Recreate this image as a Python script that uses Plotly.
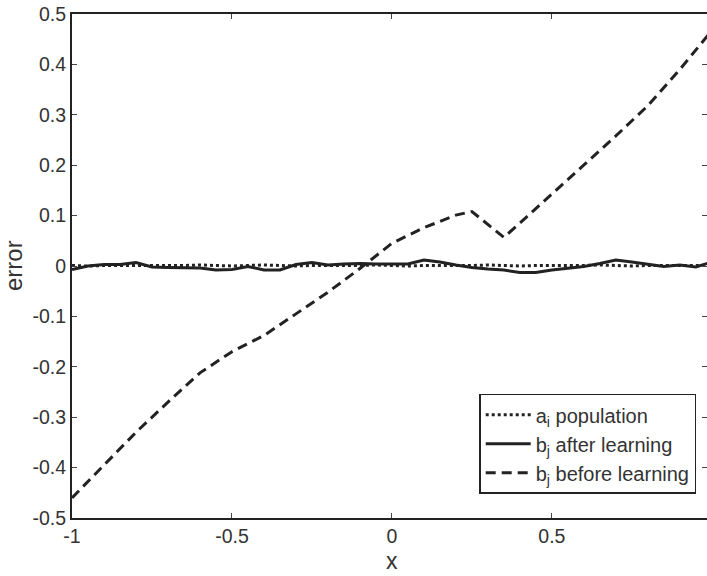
import plotly.graph_objects as go

# ---- data ----
x_fine = [round(-1 + 0.05 * i, 2) for i in range(41)]

after_learning = [
    -0.007, 0.000, 0.003, 0.003, 0.007, -0.002, -0.003, -0.003, -0.004, -0.008,
    -0.007, -0.001, -0.008, -0.008, 0.003, 0.007, 0.002, 0.004, 0.005, 0.004,
    0.004, 0.004, 0.012, 0.008, 0.002, -0.003, -0.006, -0.008, -0.013, -0.013,
    -0.008, -0.005, -0.001, 0.005, 0.012, 0.008, 0.003, -0.001, 0.002, -0.002,
    0.008,
]

population = [
    0.001, 0.000, 0.001, 0.001, 0.000, 0.001, 0.000, 0.001, 0.002, 0.001,
    0.000, 0.001, 0.002, 0.001, 0.000, 0.001, 0.001, 0.000, 0.001, 0.002,
    0.001, 0.000, 0.001, 0.001, 0.000, 0.001, 0.002, 0.001, 0.000, 0.001,
    0.001, 0.000, 0.001, 0.002, 0.001, 0.000, 0.001, 0.001, 0.000, 0.001,
    0.001,
]

x_before = [-1.0, -0.9, -0.8, -0.7, -0.6, -0.5, -0.4, -0.3, -0.2, -0.1,
            0.0, 0.1, 0.2, 0.25, 0.35, 0.4, 0.5, 0.6, 0.7, 0.8, 0.9, 1.0]
before_learning = [-0.46, -0.395, -0.33, -0.27, -0.212, -0.17, -0.138, -0.095,
                   -0.052, -0.005, 0.045, 0.076, 0.101, 0.108, 0.057, 0.085,
                   0.142, 0.2, 0.258, 0.318, 0.39, 0.467]

x_ticks = [-1, -0.5, 0, 0.5]
x_tick_labels = ["-1", "-0.5", "0", "0.5"]
y_ticks = [-0.5, -0.4, -0.3, -0.2, -0.1, 0, 0.1, 0.2, 0.3, 0.4, 0.5]
y_tick_labels = ["-0.5", "-0.4", "-0.3", "-0.2", "-0.1", "0", "0.1", "0.2", "0.3", "0.4", "0.5"]

line_col = "#222222"
text_col = "#333333"
font_fam = "Liberation Sans, Arial, sans-serif"

fig = go.Figure()
fig.add_trace(go.Scatter(
    x=x_fine, y=population, mode="lines",
    name="a<sub>i</sub> population",
    line=dict(color=line_col, width=3, dash="3px,3px"),
))
fig.add_trace(go.Scatter(
    x=x_fine, y=after_learning, mode="lines",
    name="b<sub>j</sub> after learning",
    line=dict(color=line_col, width=3),
))
fig.add_trace(go.Scatter(
    x=x_before, y=before_learning, mode="lines",
    name="b<sub>j</sub> before learning",
    line=dict(color=line_col, width=3, dash="10px,6px"),
))

axis_common = dict(
    showgrid=False, zeroline=False, showline=True, linecolor=line_col, linewidth=2,
    ticks="inside", ticklen=5, tickwidth=1, tickcolor="#444", automargin=False,
    tickfont=dict(family=font_fam, size=19.5, color=text_col),
)

fig.update_layout(
    width=707, height=576,
    margin=dict(l=72, r=0, t=14, b=58, autoexpand=False),
    paper_bgcolor="white", plot_bgcolor="white",
    font=dict(family=font_fam, color=text_col),
    xaxis=dict(
        range=[-1, 0.985], tickvals=x_ticks, ticktext=x_tick_labels,
        mirror="ticks",
        **axis_common,
    ),
    yaxis=dict(
        range=[-0.5, 0.5], tickvals=y_ticks, ticktext=y_tick_labels,
        **axis_common,
    ),
    yaxis2=dict(
        overlaying="y", side="right", range=[-0.5, 0.5], tickvals=y_ticks,
        showticklabels=False, showgrid=False, zeroline=False, showline=False,
        ticks="inside", ticklen=5, tickwidth=1, tickcolor="#444", automargin=False,
    ),
    legend=dict(
        x=0.983, y=0.048, xanchor="right", yanchor="bottom",
        bgcolor="white", bordercolor=line_col, borderwidth=1.5,
        font=dict(family=font_fam, size=20, color=text_col),
        tracegroupgap=0, itemwidth=45,
    ),
    showlegend=True,
    annotations=[
        dict(text="error", xref="paper", yref="paper", x=(13 - 72) / 635, y=0.5,
             xanchor="center", yanchor="middle", textangle=-90, showarrow=False,
             font=dict(family=font_fam, size=24, color=text_col)),
        dict(text="x", xref="paper", yref="paper", x=(392 - 72) / 635, y=0,
             xanchor="center", yanchor="bottom", yshift=-58, showarrow=False,
             font=dict(family=font_fam, size=23, color=text_col)),
    ],
)

# invisible trace to activate the right-hand tick axis
fig.add_trace(go.Scatter(x=[None], y=[None], yaxis="y2", showlegend=False, hoverinfo="skip"))

fig.write_html(
    "out.html",
    config={"displayModeBar": False},
    post_script="document.body.style.margin='0';document.body.style.overflow='hidden';",
)
